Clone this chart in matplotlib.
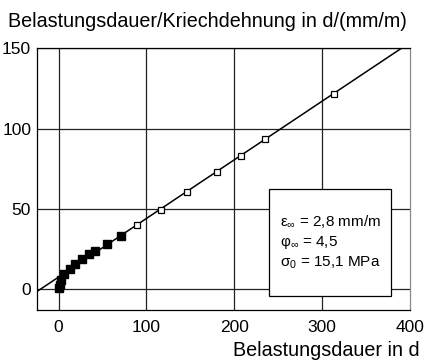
import numpy as np
import matplotlib
matplotlib.use("Agg")
import matplotlib.pyplot as plt
from matplotlib.patches import Rectangle

plt.rcParams['font.family'] = ['Liberation Sans', 'DejaVu Sans']
plt.rcParams['mathtext.fontset'] = 'custom'
plt.rcParams['mathtext.rm'] = 'Liberation Sans'
plt.rcParams['mathtext.it'] = 'Liberation Sans'

# measured points (early phase, filled)
t_filled = [0, 1, 2.5, 6, 12.5, 19, 26.5, 34, 41.5, 55, 71]
q_filled = [0.5, 2.5, 5.8, 9.3, 12.4, 15.5, 18.6, 21.7, 23.8, 28.4, 33]
# measured points (later phase, open)
t_open = [89.5, 116, 146, 180, 208, 235, 313]
q_open = [40.3, 49.5, 60.4, 72.8, 83.2, 93.7, 121.5]
# straight line fit
fit_intercept = 7.6
fit_slope = 0.365

xticks = [0, 100, 200, 300, 400]
yticks = [0, 50, 100, 150]

fig = plt.figure(figsize=(4.27, 3.61), dpi=100)
ax = fig.add_axes([0.086, 0.141, 0.874, 0.725])
ax.set_xlim(-25, 400)
ax.set_ylim(-13, 150)

for x in [0, 100, 200, 300]:
    ax.axvline(x, color='#222222', lw=0.9, zorder=1)
for y in yticks:
    ax.axhline(y, color='#222222', lw=0.9, zorder=1)

xl = np.array(ax.get_xlim())
ax.plot(xl, fit_intercept + fit_slope * xl, color='black', lw=1.1, zorder=3)
ax.plot(t_filled, q_filled, 's', color='black', ms=6, zorder=4)
ax.plot(t_open, q_open, 's', mfc='white', mec='black', mew=0.9, ms=5, zorder=4)

ax.add_patch(Rectangle((240, -4.3), 138, 67, facecolor='white', edgecolor='black',
                       lw=0.9, zorder=5))
box_lines = [r'$\mathrm{ε_{∞}}$ = 2,8 mm/m', r'$\mathrm{φ_{∞}}$ = 4,5',
             r'$\mathrm{σ_{0}}$ = 15,1 MPa']
for i, s in enumerate(box_lines):
    ax.text(252, 42 - i * 12.9, s, fontsize=11, va='center', ha='left', zorder=6)

ax.set_xticks(xticks)
ax.set_yticks(yticks)
ax.tick_params(length=0, labelsize=12.5)
ax.tick_params(axis='y', pad=4)
ax.tick_params(axis='x', pad=7)
for sp in ax.spines.values():
    sp.set_linewidth(0.9)
ax.spines['right'].set_color('#888888')

fig.text(0.019, 0.94, 'Belastungsdauer/Kriechdehnung in d/(mm/m)', fontsize=14.2,
         ha='left', va='center')
fig.text(0.983, 0.03, 'Belastungsdauer in d', fontsize=14.2, ha='right', va='center')

fig.savefig('out.png', dpi=100)
